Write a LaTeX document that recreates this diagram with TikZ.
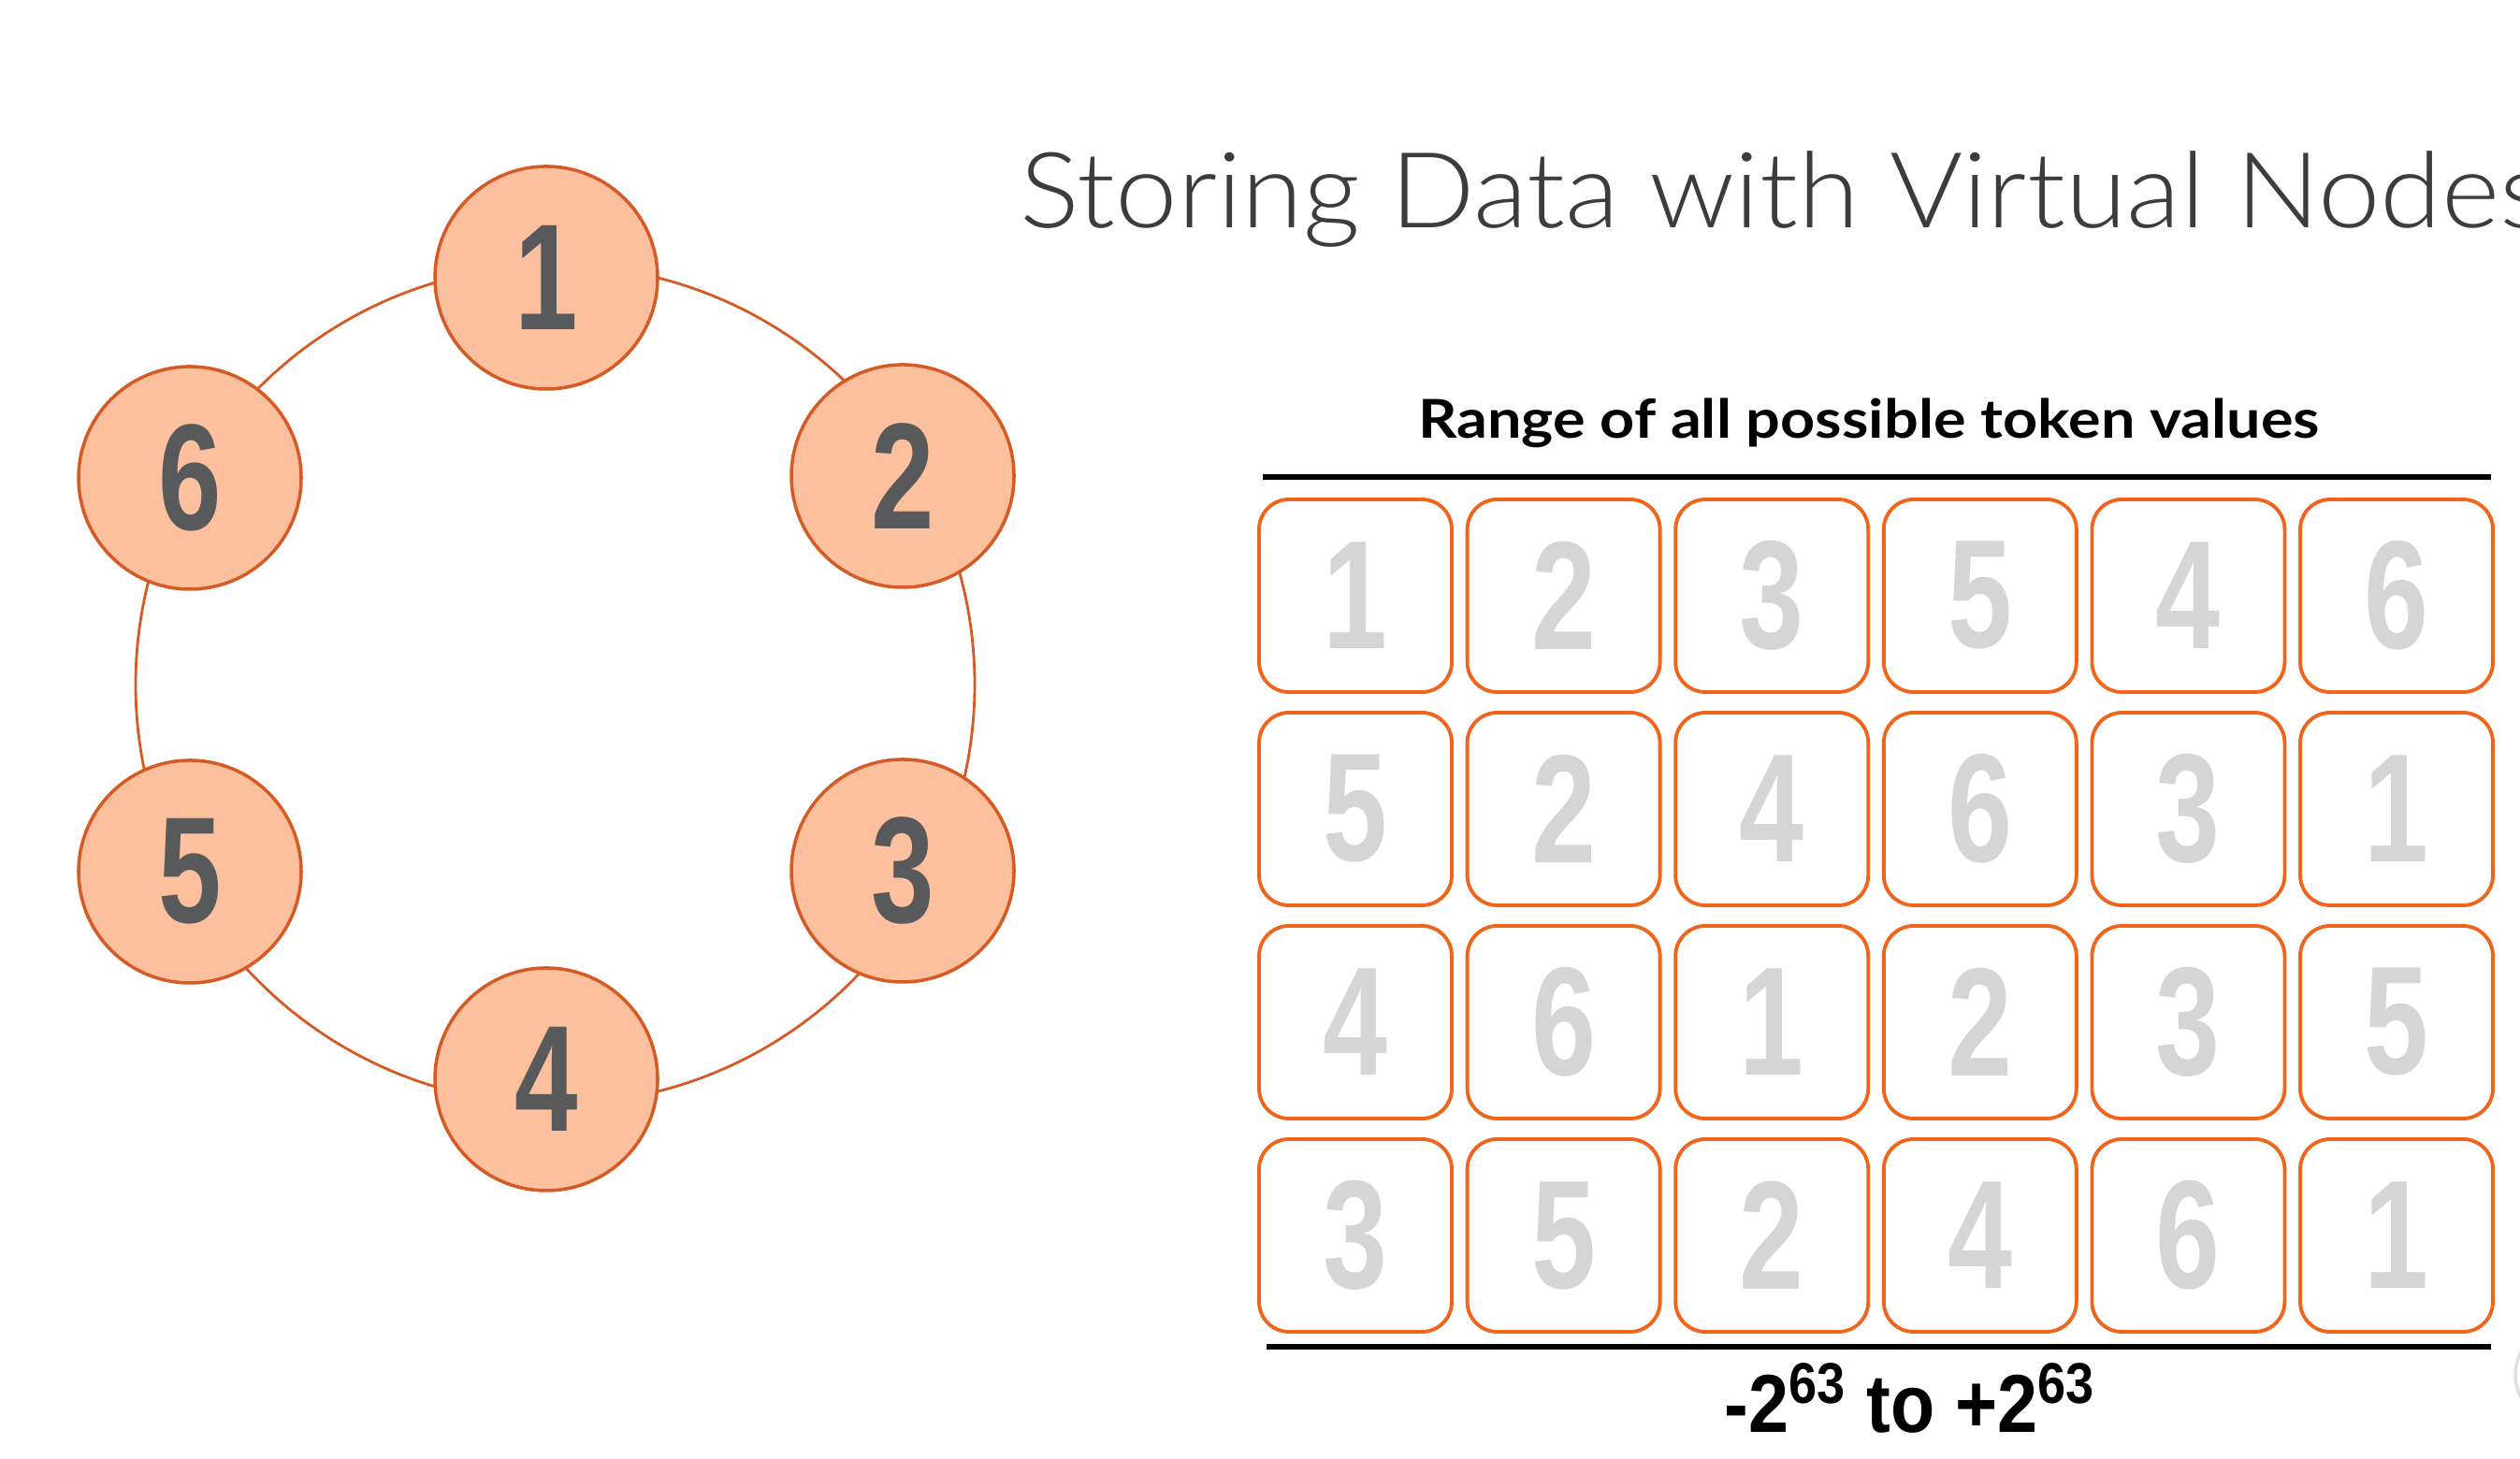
\documentclass[tikz,border=0pt]{standalone}
\usepackage{fontspec}
\setmainfont{Lato}
\newfontfamily\titlefont{Lato Light}
\newfontfamily\digitfont{Liberation Sans}
\definecolor{peach}{HTML}{FCC09E}
\definecolor{ringedge}{HTML}{D65A24}
\definecolor{tokenedge}{HTML}{F0641C}
\definecolor{digitgray}{HTML}{58595B}
\definecolor{tokengray}{HTML}{D5D5D5}
\definecolor{titlegray}{HTML}{3C3C3C}
\newcommand{\narrow}[1]{\scalebox{0.75}[1]{#1}}

\begin{document}
\begin{tikzpicture}[
    ringnode/.style={circle, draw=ringedge, fill=peach, line width=1pt, minimum size=2.38cm, inner sep=0pt,
        text=digitgray, font=\digitfont\bfseries\fontsize{46}{46}\selectfont},
    ringline/.style={draw=ringedge, line width=0.8pt},
    token/.style={rectangle, rounded corners=0.32cm, draw=tokenedge, line width=1.1pt, minimum size=2.06cm,
        inner sep=0pt, text=tokengray, font=\digitfont\bfseries\fontsize{47}{47}\selectfont},
    rule/.style={line width=1.5pt, black}]
\useasboundingbox (0,0) rectangle (26.94,15.60);
\clip (0,0) rectangle (26.94,15.60);

% ring of nodes
\coordinate (ringc) at (5.935,8.28);
\draw[ringline] (ringc) circle (4.485);
\foreach \n/\x/\y in {1/5.84/12.63,2/9.65/10.51,3/9.65/6.29,4/5.84/4.06,5/2.03/6.28,6/2.03/10.49}
    \node[ringnode] (n\n) at (\x,\y) {\narrow{\n}};

\node[anchor=base west, inner sep=0pt, text=titlegray, font=\titlefont\fontsize{32}{32}\selectfont] (title) at (10.90,13.16)
    {\scalebox{1.06}[1]{Storing Data with Virtual Nodes}};

% token ranges
\node[anchor=base, font=\bfseries\fontsize{16.3}{16.3}\selectfont] (range) at (19.98,10.91)
    {\scalebox{1.13}[1]{Range of all possible token values}};
\coordinate (topL) at (13.50,10.50);
\coordinate (topR) at (26.63,10.50);
\coordinate (botL) at (13.54,1.20);
\coordinate (botR) at (26.63,1.20);
\draw[rule] (topL) -- (topR);
\draw[rule] (botL) -- (botR);

\foreach \vals [count=\j] in {{1,2,3,5,4,6},{5,2,4,6,3,1},{4,6,1,2,3,5},{3,5,2,4,6,1}}
    \foreach \v [count=\i] in \vals
        \node[token] (t\j\i) at ({14.49+2.226*(\i-1)},{9.23-2.28*(\j-1)}) {\narrow{\v}};

\node[anchor=base, font=\digitfont\bfseries\fontsize{25}{25}\selectfont] (bounds) at (20.42,0.28)
    {\scalebox{0.88}[1]{-2\textsuperscript{63} to +2\textsuperscript{63}}};

\draw[black!12, line width=1pt] (27.42,0.90) circle (0.53);
\end{tikzpicture}
\end{document}
